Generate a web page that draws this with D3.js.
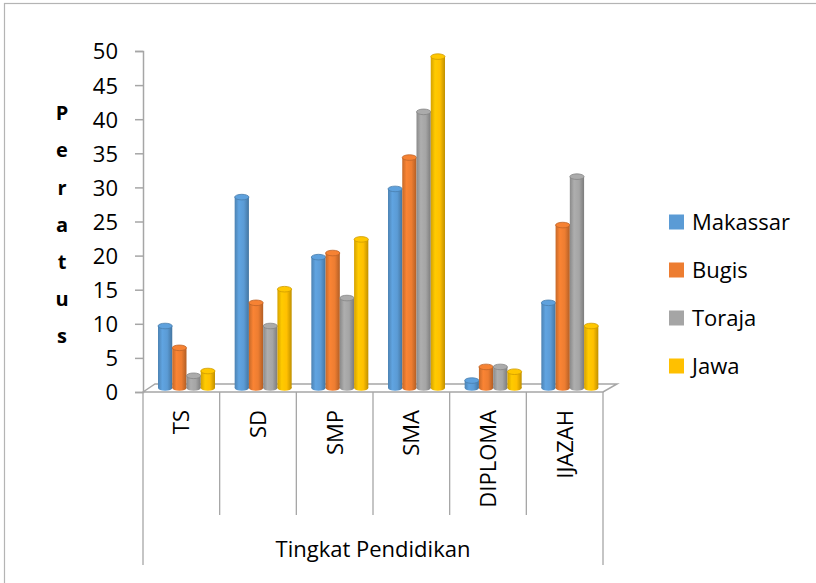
<!DOCTYPE html>
<html>
<head>
<meta charset="utf-8">
<script src="https://cdn.jsdelivr.net/npm/d3@7"></script>
<style>
  body { margin: 0; background: #fff; }
  text { font-family: "Open Sans", sans-serif; fill: #000; }
</style>
</head>
<body>
<div id="chart"></div>
<script>
// data
var categories = ["TS", "SD", "SMP", "SMA", "DIPLOMA", "IJAZAH"];
var seriesNames = ["Makassar", "Bugis", "Toraja", "Jawa"];
var makassar = [9.5, 28.4, 19.6, 29.6, 1.5, 12.9];
var bugis    = [6.3, 12.9, 20.2, 34.2, 3.5, 24.3];
var toraja   = [2.2, 9.5, 13.6, 40.9, 3.5, 31.4];
var jawa     = [2.9, 14.9, 22.2, 49.0, 2.8, 9.5];
var yTicks = [0, 5, 10, 15, 20, 25, 30, 35, 40, 45, 50];
var yTitle = "Peratus";
var xTitle = "Tingkat Pendidikan";
var colors = ["#5B9BD5", "#ED7D31", "#A5A5A5", "#FFC000"];

var values = [makassar, bugis, toraja, jawa];

var W = 816, H = 583;
var svg = d3.select("#chart").append("svg")
    .attr("width", W)
    .attr("height", H);

// outer border of the chart area
svg.append("rect")
    .attr("x", 4.5).attr("y", 3.5)
    .attr("width", W + 10).attr("height", H + 10)
    .attr("fill", "none")
    .attr("stroke", "#b4b4b4")
    .attr("stroke-width", 1.2);

var plot = {left: 143, right: 603, top: 51, bottom: 392};
var depth = {dx: 12, dy: 8}; // floor depth offset

var x = d3.scaleBand()
    .domain(categories)
    .range([plot.left, plot.right]);

var y = d3.scaleLinear()
    .domain([0, 50])
    .range([plot.bottom, plot.top]);

var xs = d3.scaleBand()
    .domain(seriesNames)
    .range([0, 57]);

// gradients for the cylinders
var defs = svg.append("defs");
colors.forEach(function(c, i) {
    var g = defs.append("linearGradient")
        .attr("id", "cyl" + i)
        .attr("x1", "0%").attr("x2", "100%")
        .attr("y1", "0%").attr("y2", "0%");
    var base = d3.color(c);
    g.append("stop").attr("offset", "0%").attr("stop-color", base.darker(0.5));
    g.append("stop").attr("offset", "30%").attr("stop-color", base.brighter(0.15));
    g.append("stop").attr("offset", "65%").attr("stop-color", base);
    g.append("stop").attr("offset", "100%").attr("stop-color", base.darker(0.8));
});

// floor
var floorPts = [
    [plot.left, plot.bottom],
    [plot.left + depth.dx, plot.bottom - depth.dy],
    [plot.right + 14, plot.bottom - depth.dy],
    [plot.right, plot.bottom]
];
svg.append("polygon")
    .attr("points", floorPts.map(function(p) { return p.join(","); }).join(" "))
    .attr("fill", "#fff")
    .attr("stroke", "#a6a6a6")
    .attr("stroke-width", 1.5);

// y axis
var yAxis = svg.append("g")
    .attr("transform", "translate(" + plot.left + ",0)")
    .call(d3.axisLeft(y).tickValues(yTicks).tickSize(8).tickPadding(17));
yAxis.select(".domain").attr("stroke", "#a6a6a6").attr("stroke-width", 1.5);
yAxis.selectAll(".tick line").attr("stroke", "#a6a6a6").attr("stroke-width", 1.5);
yAxis.selectAll(".tick text")
    .style("font-family", "'Open Sans', sans-serif")
    .style("font-size", "22px")
    .attr("dy", "0.36em")
    .attr("fill", "#000");

// y title, one letter per line
var letters = yTitle.split("");
var ly = d3.scalePoint().domain(d3.range(letters.length)).range([113, 336]);
svg.selectAll(".ytitle")
    .data(letters)
    .enter().append("text")
    .attr("class", "ytitle")
    .attr("x", 62)
    .attr("y", function(d, i) { return ly(i); })
    .attr("dy", "0.36em")
    .attr("text-anchor", "middle")
    .style("font-size", "20px")
    .style("font-weight", "bold")
    .text(function(d) { return d; });

// bars (cylinders)
var baseY = plot.bottom - depth.dy / 2;
var ry = 2.8;
var offX = depth.dx / 2 + 9;

var groups = svg.selectAll(".serie")
    .data(seriesNames)
    .enter().append("g")
    .attr("class", "serie");

groups.each(function(name, si) {
    var g = d3.select(this);
    var pts = categories.map(function(c, ci) { return {cat: c, v: values[si][ci]}; });
    var bar = g.selectAll(".bar")
        .data(pts)
        .enter().append("g")
        .attr("class", "bar");
    var bx = function(d) { return x(d.cat) + offX + xs(name); };
    var bw = xs.bandwidth();
    var topY = function(d) { return y(d.v) - depth.dy / 2 + ry; };

    bar.append("ellipse")
        .attr("cx", function(d) { return bx(d) + bw / 2; })
        .attr("cy", baseY)
        .attr("rx", bw / 2).attr("ry", ry)
        .attr("fill", "url(#cyl" + si + ")");
    bar.append("rect")
        .attr("x", bx)
        .attr("y", topY)
        .attr("width", bw)
        .attr("height", function(d) { return baseY - topY(d); })
        .attr("fill", "url(#cyl" + si + ")");
    bar.append("ellipse")
        .attr("cx", function(d) { return bx(d) + bw / 2; })
        .attr("cy", topY)
        .attr("rx", bw / 2).attr("ry", ry)
        .attr("fill", d3.color(colors[si]).brighter(0.1))
        .attr("stroke", d3.color(colors[si]).darker(0.6))
        .attr("stroke-width", 0.8);
});

// category axis dividers
var bounds = categories.map(function(c) { return x(c); }).concat([plot.right]);
svg.selectAll(".div")
    .data(bounds)
    .enter().append("line")
    .attr("class", "div")
    .attr("x1", function(d) { return d; })
    .attr("x2", function(d) { return d; })
    .attr("y1", plot.bottom)
    .attr("y2", function(d, i) { return (i === 0 || i === bounds.length - 1) ? 565 : 515; })
    .attr("stroke", "#a6a6a6")
    .attr("stroke-width", 1.3);

// category labels
svg.selectAll(".catlabel")
    .data(categories)
    .enter().append("text")
    .attr("class", "catlabel")
    .attr("transform", function(d) {
        return "translate(" + (x(d) + x.bandwidth() / 2) + ",410) rotate(-90)";
    })
    .attr("text-anchor", "end")
    .attr("dy", "0.36em")
    .style("font-size", "22px")
    .text(function(d) { return d; });

// x title
svg.append("text")
    .attr("x", (plot.left + plot.right) / 2)
    .attr("y", 557)
    .attr("text-anchor", "middle")
    .style("font-size", "22px")
    .text(xTitle);

// legend
var legend = svg.selectAll(".legend")
    .data(seriesNames)
    .enter().append("g")
    .attr("class", "legend")
    .attr("transform", function(d, i) { return "translate(669," + (222 + i * 48) + ")"; });
legend.append("rect")
    .attr("x", 0).attr("y", -7.5)
    .attr("width", 15).attr("height", 15)
    .attr("fill", function(d, i) { return colors[i]; });
legend.append("text")
    .attr("x", 23)
    .attr("dy", "0.36em")
    .style("font-size", "22px")
    .text(function(d) { return d; });
</script>
</body>
</html>
